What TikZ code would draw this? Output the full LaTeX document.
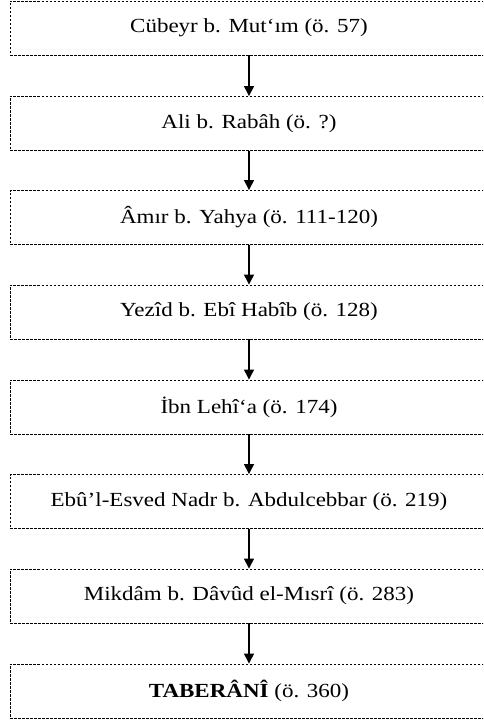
\documentclass[tikz,border=0pt]{standalone}
\usepackage{fontspec}
\setmainfont[FakeStretch=1.15]{Liberation Serif}
\usetikzlibrary{arrows.meta}
\begin{document}
\begin{tikzpicture}[x=1pt,y=-1pt,
  chainbox/.style={draw=black, line width=0.9pt, dash pattern=on 2.5pt off 1.5pt,
    minimum width=478pt, minimum height=54pt, inner sep=0pt,
    font=\fontsize{20}{24}\selectfont},
  link/.style={line width=1.3pt, -{Triangle[width=10pt,length=10pt]}}]
\clip (0,0) rectangle (483,722);
\useasboundingbox (0,0) rectangle (483,722);
\node[chainbox] (n1) at (249,28) {Cübeyr b. Mut‘ım (ö. 57)};
\node[chainbox] (n2) at (249,123.5) {Ali b. Rabâh (ö. ?)};
\node[chainbox] (n3) at (249,217.5) {Âmır b. Yahya (ö. 111-120)};
\node[chainbox] (n4) at (249,312) {Yezîd b. Ebî Habîb (ö. 128)};
\node[chainbox] (n5) at (249,407) {İbn Lehî‘a (ö. 174)};
\node[chainbox] (n6) at (249,501.5) {Ebû’l-Esved Nadr b. Abdulcebbar (ö. 219)};
\node[chainbox] (n7) at (249,596) {Mikdâm b. Dâvûd el-Mısrî (ö. 283)};
\node[chainbox] (n8) at (249,691) {\textbf{TABERÂNÎ} (ö. 360)};
\foreach \a/\b in {n1/n2,n2/n3,n3/n4,n4/n5,n5/n6,n6/n7,n7/n8}
  \draw[link] (\a.south) -- (\b.north);
\end{tikzpicture}
\end{document}
